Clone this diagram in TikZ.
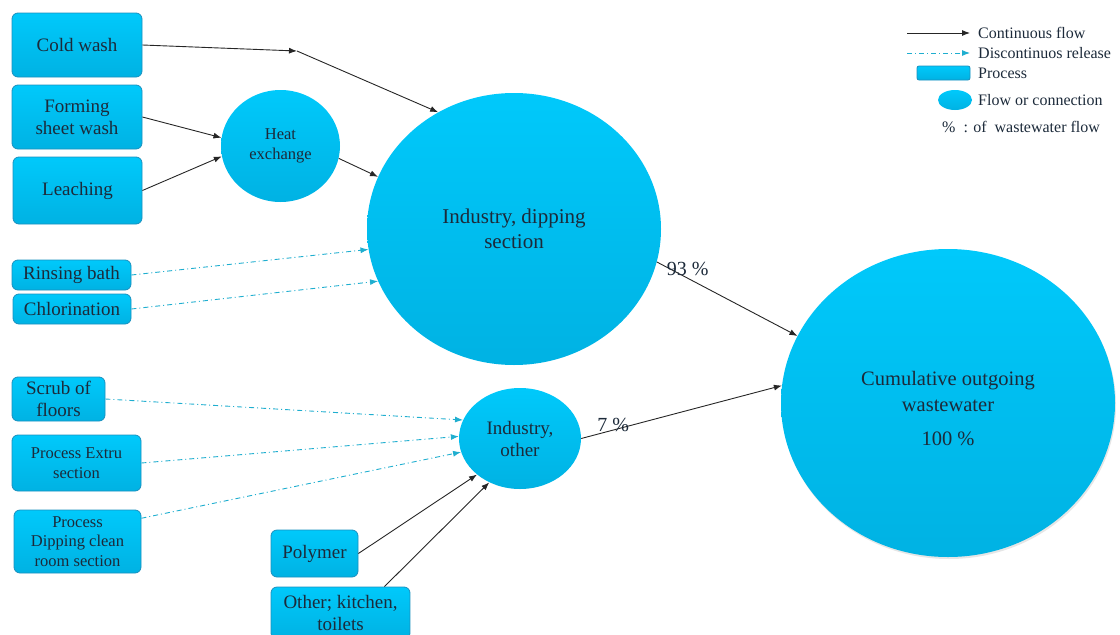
\documentclass[tikz,border=0pt]{standalone}
\usepackage{fontspec}
\setmainfont{Liberation Serif}
\usepackage{tikz}
\usetikzlibrary{arrows.meta,positioning,shapes.geometric,shadows}

\definecolor{cytop}{HTML}{00C9FB}
\definecolor{cybot}{HTML}{00B2E3}
\definecolor{procedge}{HTML}{1A90BE}
\definecolor{txt}{HTML}{1C2A3A}
\definecolor{relcol}{HTML}{1FAECF}

\begin{document}
\begin{tikzpicture}[x=1pt,y=-1pt,>={Latex[length=8pt,width=6pt]},
proc/.style={rectangle, rounded corners=6pt, draw=procedge, line width=0.8pt, top color=cytop, bottom color=cybot, align=center, inner sep=0pt, text=txt},
flw/.style={ellipse, top color=cytop, bottom color=cybot, align=center, inner sep=0pt, text=txt},
cont/.style={->, line width=0.9pt, draw=black!85},
rel/.style={->, line width=0.9pt, draw=relcol, dash pattern=on 5pt off 3pt on 1pt off 3pt},
big/.style={font=\fontsize{19}{22}\selectfont},
small/.style={font=\fontsize{16.5}{19.5}\selectfont},
lgd/.style={anchor=west, text=txt, inner sep=0pt, font=\fontsize{16}{18}\selectfont}
]
\useasboundingbox (0,0) rectangle (1120,635);
% Sources
\node[proc, big, minimum width=130, minimum height=64] (cold) at (77,45) {Cold wash};
\node[proc, big, minimum width=130, minimum height=64] (form) at (77,117) {Forming\\sheet wash};
\node[proc, big, minimum width=129, minimum height=67] (leach) at (77.5,190.5) {Leaching};
\node[proc, big, minimum width=119, minimum height=30] (rinse) at (71.5,275) {Rinsing bath};
\node[proc, big, minimum width=118, minimum height=30] (chlor) at (72,309) {Chlorination};
\node[proc, big, minimum width=93, minimum height=44] (scrub) at (58.5,399) {Scrub of\\floors};
\node[proc, small, minimum width=129, minimum height=56] (extru) at (76.5,463) {Process Extru\\section};
\node[proc, small, minimum width=127, minimum height=63] (dclean) at (77.5,541.5) {Process\\Dipping clean\\room section};
\node[proc, big, minimum width=87, minimum height=47] (poly) at (314.5,553.5) {Polymer};
\node[proc, big, minimum width=139, minimum height=52] (kitch) at (340.5,613) {Other; kitchen,\\toilets};
% Flows
\node[flw, small, minimum width=119, minimum height=112] (heat) at (280.5,146) {Heat\\exchange};
\node[flw, minimum width=294, minimum height=272, font=\fontsize{21}{25}\selectfont] (dip) at (514,229) {Industry, dipping\\section};
\node[flw, big, minimum width=122, minimum height=101] (other) at (520,438.5) {Industry,\\other};
\node[flw, minimum width=334, minimum height=308, font=\fontsize{20.5}{26}\selectfont, drop shadow={opacity=0.2, shadow xshift=1pt, shadow yshift=-2pt}] (cum) at (948,403)
  {\raisebox{-12pt}[0pt][0pt]{\begin{tabular}{@{}c@{}}Cumulative outgoing\\wastewater\\[8pt]100 \%\end{tabular}}};
% Connectors
\coordinate (coldmid) at (297,51);
\draw[cont] (cold.east) -- (coldmid);
\draw[cont] (coldmid) -- (dip.123);
\draw[cont] (form.east) -- (heat.172);
\draw[cont] (leach.east) -- (heat.190);
\draw[cont] (heat.-12) -- (dip.159);
\draw[rel] (rinse.east) -- (dip.188);
\draw[rel] (chlor.east) -- (dip.201);
\draw[cont] (dip.-13) -- (cum.156) node[pos=0.22, above=-1pt, text=txt, font=\fontsize{20}{24}\selectfont] (p93) {93 \%};
\draw[cont] (other.0) -- (cum.174) node[pos=0.16, above=-6pt, text=txt, font=\fontsize{20}{24}\selectfont] (p7) {7 \%};
\draw[rel] (scrub.east) -- (other.162);
\draw[rel] (extru.east) -- (other.178);
\draw[rel] (dclean.20) -- (other.193);
\draw[cont] (poly.east) -- (other.220);
\draw[cont] (kitch.31) -- (other.235);
% Legend
\coordinate (l1a) at (907,33); \coordinate (l1b) at (970,33);
\coordinate (l2a) at (907,53); \coordinate (l2b) at (970,53);
\draw[cont] (l1a) -- (l1b);
\draw[rel] (l2a) -- (l2b);
\node[proc, rounded corners=2pt, minimum width=53, minimum height=14] (lproc) at (943.5,73) {};
\node[flw, minimum width=34, minimum height=20] (lflw) at (955,100) {};
\node[lgd] (t1) at (978,33) {Continuous flow};
\node[lgd] (t2) at (978,53) {Discontinuos release};
\node[lgd] (t3) at (978,73) {Process};
\node[lgd] (t4) at (978,100) {Flow or connection};
\node[lgd] (t5) at (942,127) {\%\ \ : of\ \ wastewater flow};
\end{tikzpicture}
\end{document}
